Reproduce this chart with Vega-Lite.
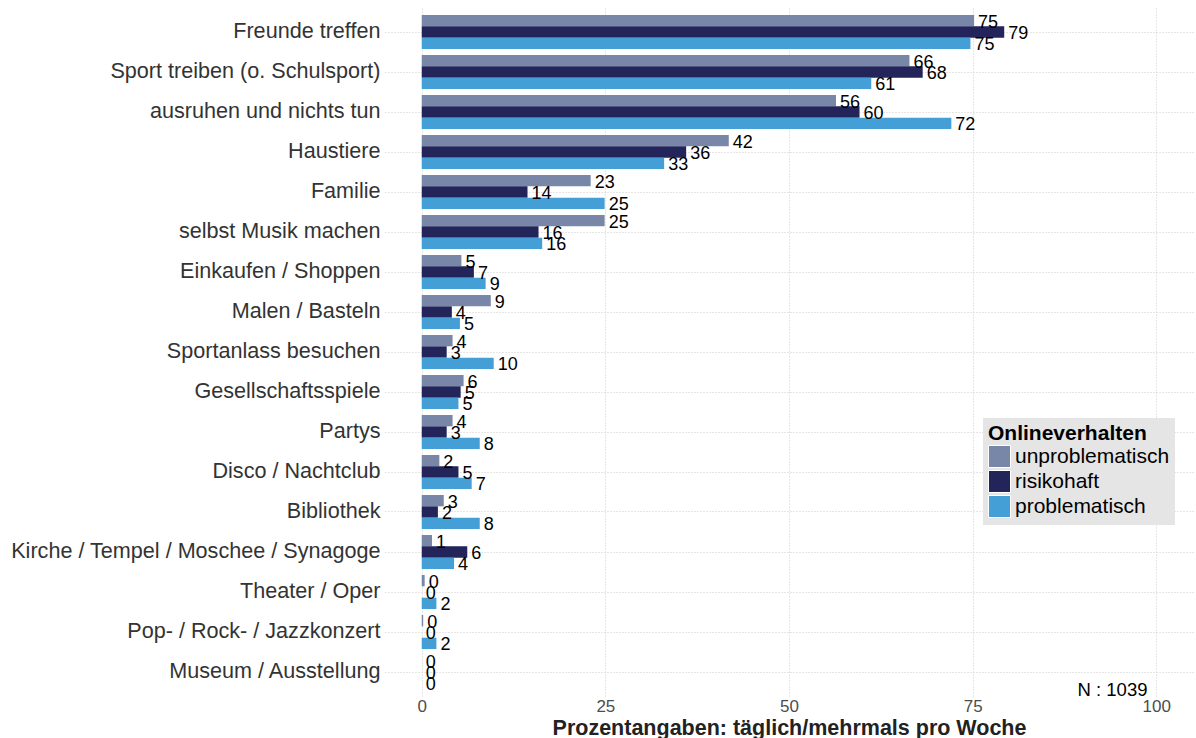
{
  "$schema": "https://vega.github.io/schema/vega-lite/v6.json",
  "width": 808,
  "height": 688,
  "autosize": {"type": "none"},
  "padding": {"left": 385, "top": 8, "right": 3, "bottom": 42},
  "background": "white",
  "config": {"view": {"stroke": null}, "font": "Liberation Sans"},
  "datasets": {
    "main": [
      {"activity": "Freunde treffen", "group": "unproblematisch", "v": 75.2},
      {"activity": "Freunde treffen", "group": "risikohaft", "v": 79.3},
      {"activity": "Freunde treffen", "group": "problematisch", "v": 74.7},
      {"activity": "Sport treiben (o. Schulsport)", "group": "unproblematisch", "v": 66.4},
      {"activity": "Sport treiben (o. Schulsport)", "group": "risikohaft", "v": 68.2},
      {"activity": "Sport treiben (o. Schulsport)", "group": "problematisch", "v": 61.2},
      {"activity": "ausruhen und nichts tun", "group": "unproblematisch", "v": 56.4},
      {"activity": "ausruhen und nichts tun", "group": "risikohaft", "v": 59.6},
      {"activity": "ausruhen und nichts tun", "group": "problematisch", "v": 72.1},
      {"activity": "Haustiere", "group": "unproblematisch", "v": 41.8},
      {"activity": "Haustiere", "group": "risikohaft", "v": 36.0},
      {"activity": "Haustiere", "group": "problematisch", "v": 33.0},
      {"activity": "Familie", "group": "unproblematisch", "v": 23.0},
      {"activity": "Familie", "group": "risikohaft", "v": 14.4},
      {"activity": "Familie", "group": "problematisch", "v": 24.9},
      {"activity": "selbst Musik machen", "group": "unproblematisch", "v": 24.9},
      {"activity": "selbst Musik machen", "group": "risikohaft", "v": 15.9},
      {"activity": "selbst Musik machen", "group": "problematisch", "v": 16.4},
      {"activity": "Einkaufen / Shoppen", "group": "unproblematisch", "v": 5.4},
      {"activity": "Einkaufen / Shoppen", "group": "risikohaft", "v": 7.1},
      {"activity": "Einkaufen / Shoppen", "group": "problematisch", "v": 8.7},
      {"activity": "Malen / Basteln", "group": "unproblematisch", "v": 9.4},
      {"activity": "Malen / Basteln", "group": "risikohaft", "v": 4.1},
      {"activity": "Malen / Basteln", "group": "problematisch", "v": 5.2},
      {"activity": "Sportanlass besuchen", "group": "unproblematisch", "v": 4.2},
      {"activity": "Sportanlass besuchen", "group": "risikohaft", "v": 3.4},
      {"activity": "Sportanlass besuchen", "group": "problematisch", "v": 9.8},
      {"activity": "Gesellschaftsspiele", "group": "unproblematisch", "v": 5.7},
      {"activity": "Gesellschaftsspiele", "group": "risikohaft", "v": 5.3},
      {"activity": "Gesellschaftsspiele", "group": "problematisch", "v": 5.0},
      {"activity": "Partys", "group": "unproblematisch", "v": 4.2},
      {"activity": "Partys", "group": "risikohaft", "v": 3.4},
      {"activity": "Partys", "group": "problematisch", "v": 7.9},
      {"activity": "Disco / Nachtclub", "group": "unproblematisch", "v": 2.4},
      {"activity": "Disco / Nachtclub", "group": "risikohaft", "v": 5.0},
      {"activity": "Disco / Nachtclub", "group": "problematisch", "v": 6.8},
      {"activity": "Bibliothek", "group": "unproblematisch", "v": 3.0},
      {"activity": "Bibliothek", "group": "risikohaft", "v": 2.2},
      {"activity": "Bibliothek", "group": "problematisch", "v": 7.9},
      {"activity": "Kirche / Tempel / Moschee / Synagoge", "group": "unproblematisch", "v": 1.4},
      {"activity": "Kirche / Tempel / Moschee / Synagoge", "group": "risikohaft", "v": 6.2},
      {"activity": "Kirche / Tempel / Moschee / Synagoge", "group": "problematisch", "v": 4.4},
      {"activity": "Theater / Oper", "group": "unproblematisch", "v": 0.4},
      {"activity": "Theater / Oper", "group": "risikohaft", "v": 0.0},
      {"activity": "Theater / Oper", "group": "problematisch", "v": 2.0},
      {"activity": "Pop- / Rock- / Jazzkonzert", "group": "unproblematisch", "v": 0.2},
      {"activity": "Pop- / Rock- / Jazzkonzert", "group": "risikohaft", "v": 0.0},
      {"activity": "Pop- / Rock- / Jazzkonzert", "group": "problematisch", "v": 2.0},
      {"activity": "Museum / Ausstellung", "group": "unproblematisch", "v": 0.0},
      {"activity": "Museum / Ausstellung", "group": "risikohaft", "v": 0.0},
      {"activity": "Museum / Ausstellung", "group": "problematisch", "v": 0.0}
    ],
    "note": [{"n": "N : 1039", "x": 98.8, "activity": "Museum / Ausstellung"}]
  },
  "layer": [
    {
      "data": {"name": "main"},
      "mark": {"type": "bar"},
      "encoding": {
        "y": {
          "field": "activity", "type": "nominal",
          "sort": ["Freunde treffen", "Sport treiben (o. Schulsport)", "ausruhen und nichts tun", "Haustiere", "Familie", "selbst Musik machen", "Einkaufen / Shoppen", "Malen / Basteln", "Sportanlass besuchen", "Gesellschaftsspiele", "Partys", "Disco / Nachtclub", "Bibliothek", "Kirche / Tempel / Moschee / Synagoge", "Theater / Oper", "Pop- / Rock- / Jazzkonzert", "Museum / Ausstellung"],
          "scale": {"paddingInner": 0.15, "paddingOuter": 0.175},
          "axis": {"title": null, "domain": false, "ticks": false, "labelFontSize": 21.6, "labelColor": "#333333", "labelPadding": 5, "labelLimit": 500, "grid": true, "bandPosition": 0.5, "gridDash": [1, 2], "gridColor": "#cccccc", "gridWidth": 1}
        },
        "yOffset": {"field": "group", "type": "nominal", "sort": ["unproblematisch", "risikohaft", "problematisch"]},
        "x": {
          "field": "v", "type": "quantitative", "stack": null,
          "scale": {"domain": [-5, 105], "nice": false},
          "axis": {"values": [0, 25, 50, 75, 100], "title": "Prozentangaben: täglich/mehrmals pro Woche", "titleFontSize": 21.5, "titleFontWeight": "bold", "titleColor": "#222222", "labelFontSize": 17, "labelColor": "#4d4d4d", "domain": false, "ticks": false, "grid": true, "gridDash": [1, 2], "gridColor": "#cccccc", "gridWidth": 1, "labelPadding": 2, "titlePadding": 3}
        },
        "color": {
          "field": "group", "type": "nominal",
          "scale": {"domain": ["unproblematisch", "risikohaft", "problematisch"], "range": ["#7887a8", "#22245a", "#459fd7"]},
          "legend": {"title": "Onlineverhalten", "orient": "none", "legendX": 598, "legendY": 410, "fillColor": "#e5e5e5", "padding": 5, "titleFontSize": 21, "titleFontWeight": "bold", "titleColor": "black", "labelFontSize": 21, "labelColor": "black", "symbolType": "square", "symbolSize": 484, "symbolStrokeColor": "white", "symbolStrokeWidth": 1, "symbolOpacity": 1, "rowPadding": -4, "labelOffset": 4, "titlePadding": 1, "labelLimit": 400}
        }
      }
    },
    {
      "data": {"name": "main"},
      "mark": {"type": "text", "align": "left", "baseline": "middle", "dx": 4, "dy": 2, "fontSize": 18, "color": "black"},
      "encoding": {
        "y": {"field": "activity", "type": "nominal", "sort": ["Freunde treffen", "Sport treiben (o. Schulsport)", "ausruhen und nichts tun", "Haustiere", "Familie", "selbst Musik machen", "Einkaufen / Shoppen", "Malen / Basteln", "Sportanlass besuchen", "Gesellschaftsspiele", "Partys", "Disco / Nachtclub", "Bibliothek", "Kirche / Tempel / Moschee / Synagoge", "Theater / Oper", "Pop- / Rock- / Jazzkonzert", "Museum / Ausstellung"]},
        "yOffset": {"field": "group", "type": "nominal", "sort": ["unproblematisch", "risikohaft", "problematisch"]},
        "x": {"field": "v", "type": "quantitative", "stack": null},
        "text": {"field": "v", "type": "quantitative", "format": ".0f"}
      }
    },
    {
      "data": {"name": "note"},
      "mark": {"type": "text", "align": "right", "baseline": "middle", "dy": 18, "fontSize": 18.5, "color": "black"},
      "encoding": {
        "x": {"field": "x", "type": "quantitative"},
        "y": {"field": "activity", "type": "nominal", "sort": ["Freunde treffen", "Sport treiben (o. Schulsport)", "ausruhen und nichts tun", "Haustiere", "Familie", "selbst Musik machen", "Einkaufen / Shoppen", "Malen / Basteln", "Sportanlass besuchen", "Gesellschaftsspiele", "Partys", "Disco / Nachtclub", "Bibliothek", "Kirche / Tempel / Moschee / Synagoge", "Theater / Oper", "Pop- / Rock- / Jazzkonzert", "Museum / Ausstellung"]},
        "text": {"field": "n"}
      }
    }
  ]
}
